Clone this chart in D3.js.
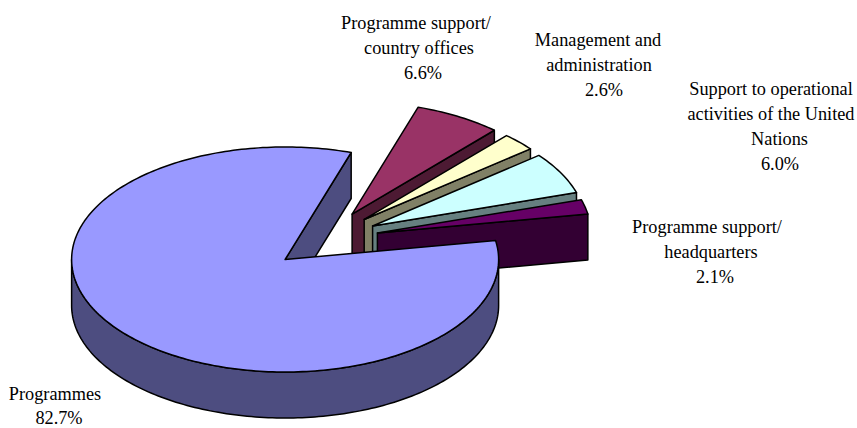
<!DOCTYPE html>
<html>
<head>
<meta charset="utf-8">
<script src="https://cdn.jsdelivr.net/npm/d3@7/dist/d3.min.js"></script>
<style>
html,body{margin:0;padding:0;background:#fff;}
svg{display:block;}
text{font-family:"Liberation Serif","Times New Roman",serif;font-size:18.3px;fill:#000;text-anchor:middle;}
</style>
</head>
<body>
<svg id="c" width="857" height="428"></svg>
<script>
const categories = ["Programmes","Programme support/ country offices","Management and administration","Support to operational activities of the United Nations","Programme support/ headquarters"];
const values = [82.7,6.6,2.6,6.0,2.1];
const valueLabels = ["82.7%","6.6%","2.6%","6.0%","2.1%"];
const topColors = ["#9999FF","#993366","#FFFFCC","#CCFFFF","#660066"];
const sideColors = ["#4D4D80","#4D1A33","#808066","#668080","#330033"];
const labelLines = [["Programmes"],["Programme support/","country offices"],["Management and","administration"],["Support to operational","activities of the United","Nations"],["Programme support/","headquarters"]];

const W=857,H=428;
const cx=325.5,cy=240,rx=213.5,ry=112.5,depth=46,explodeX=0.25,explodeY=0.265;
const startDeg=80.3;
// line centres and first baseline of each label block
const labelX=[[55,59],[416,419,423],[598,599,604],[771,771,779.5,780],[707,711,715]];
const labelY=[400,29,46,95,233];
const labelStep=[24,25,25,25,25];

const svg=d3.select("#c");
const pie=d3.pie().sort(null).startAngle(startDeg*Math.PI/180).endAngle((startDeg+360)*Math.PI/180).value(d=>d);
const arcs=pie(values);
const px=a=>Math.sin(a)*rx, py=a=>-Math.cos(a)*ry;

function arcPts(a0,a1,ox,oy){
  const n=Math.max(2,Math.ceil((a1-a0)/0.02));
  return d3.range(n+1).map(i=>{const a=a0+(a1-a0)*i/n;return [ox+px(a),oy+py(a)];});
}
const line=d3.line();
function draw(i){
  const d=arcs[i],a0=d.startAngle,a1=d.endAngle,mid=(a0+a1)/2;
  const ox=cx+Math.sin(mid)*rx*explodeX, oy=cy-Math.cos(mid)*ry*explodeY;
  const g=svg.append("g").attr("stroke","#000").attr("stroke-width",1.5).attr("stroke-linejoin","round");
  const tip=[ox+px(a1),oy+py(a1)];
  g.append("path").attr("fill",sideColors[i]).attr("d",line([[ox,oy],tip,[tip[0],tip[1]+depth],[ox,oy+depth]])+"Z");
  const w0=Math.max(a0,Math.PI/2),w1=Math.min(a1,3*Math.PI/2);
  if(w1>w0){
    const t=arcPts(w0,w1,ox,oy), b=t.map(p=>[p[0],p[1]+depth]).reverse();
    g.append("path").attr("fill",sideColors[i]).attr("d",line(t.concat(b))+"Z");
  }
  g.append("path").attr("fill",topColors[i]).attr("d",line([[ox,oy]].concat(arcPts(a0,a1,ox,oy)))+"Z");
}
[1,2,3,4,0].forEach(draw);

const t=svg.append("g");
categories.forEach((c,i)=>{
  labelLines[i].concat([valueLabels[i]]).forEach((l,j)=>{
    t.append("text").attr("x",labelX[i][j]).attr("y",labelY[i]+j*labelStep[i]).text(l);
  });
});
</script>
</body>
</html>
